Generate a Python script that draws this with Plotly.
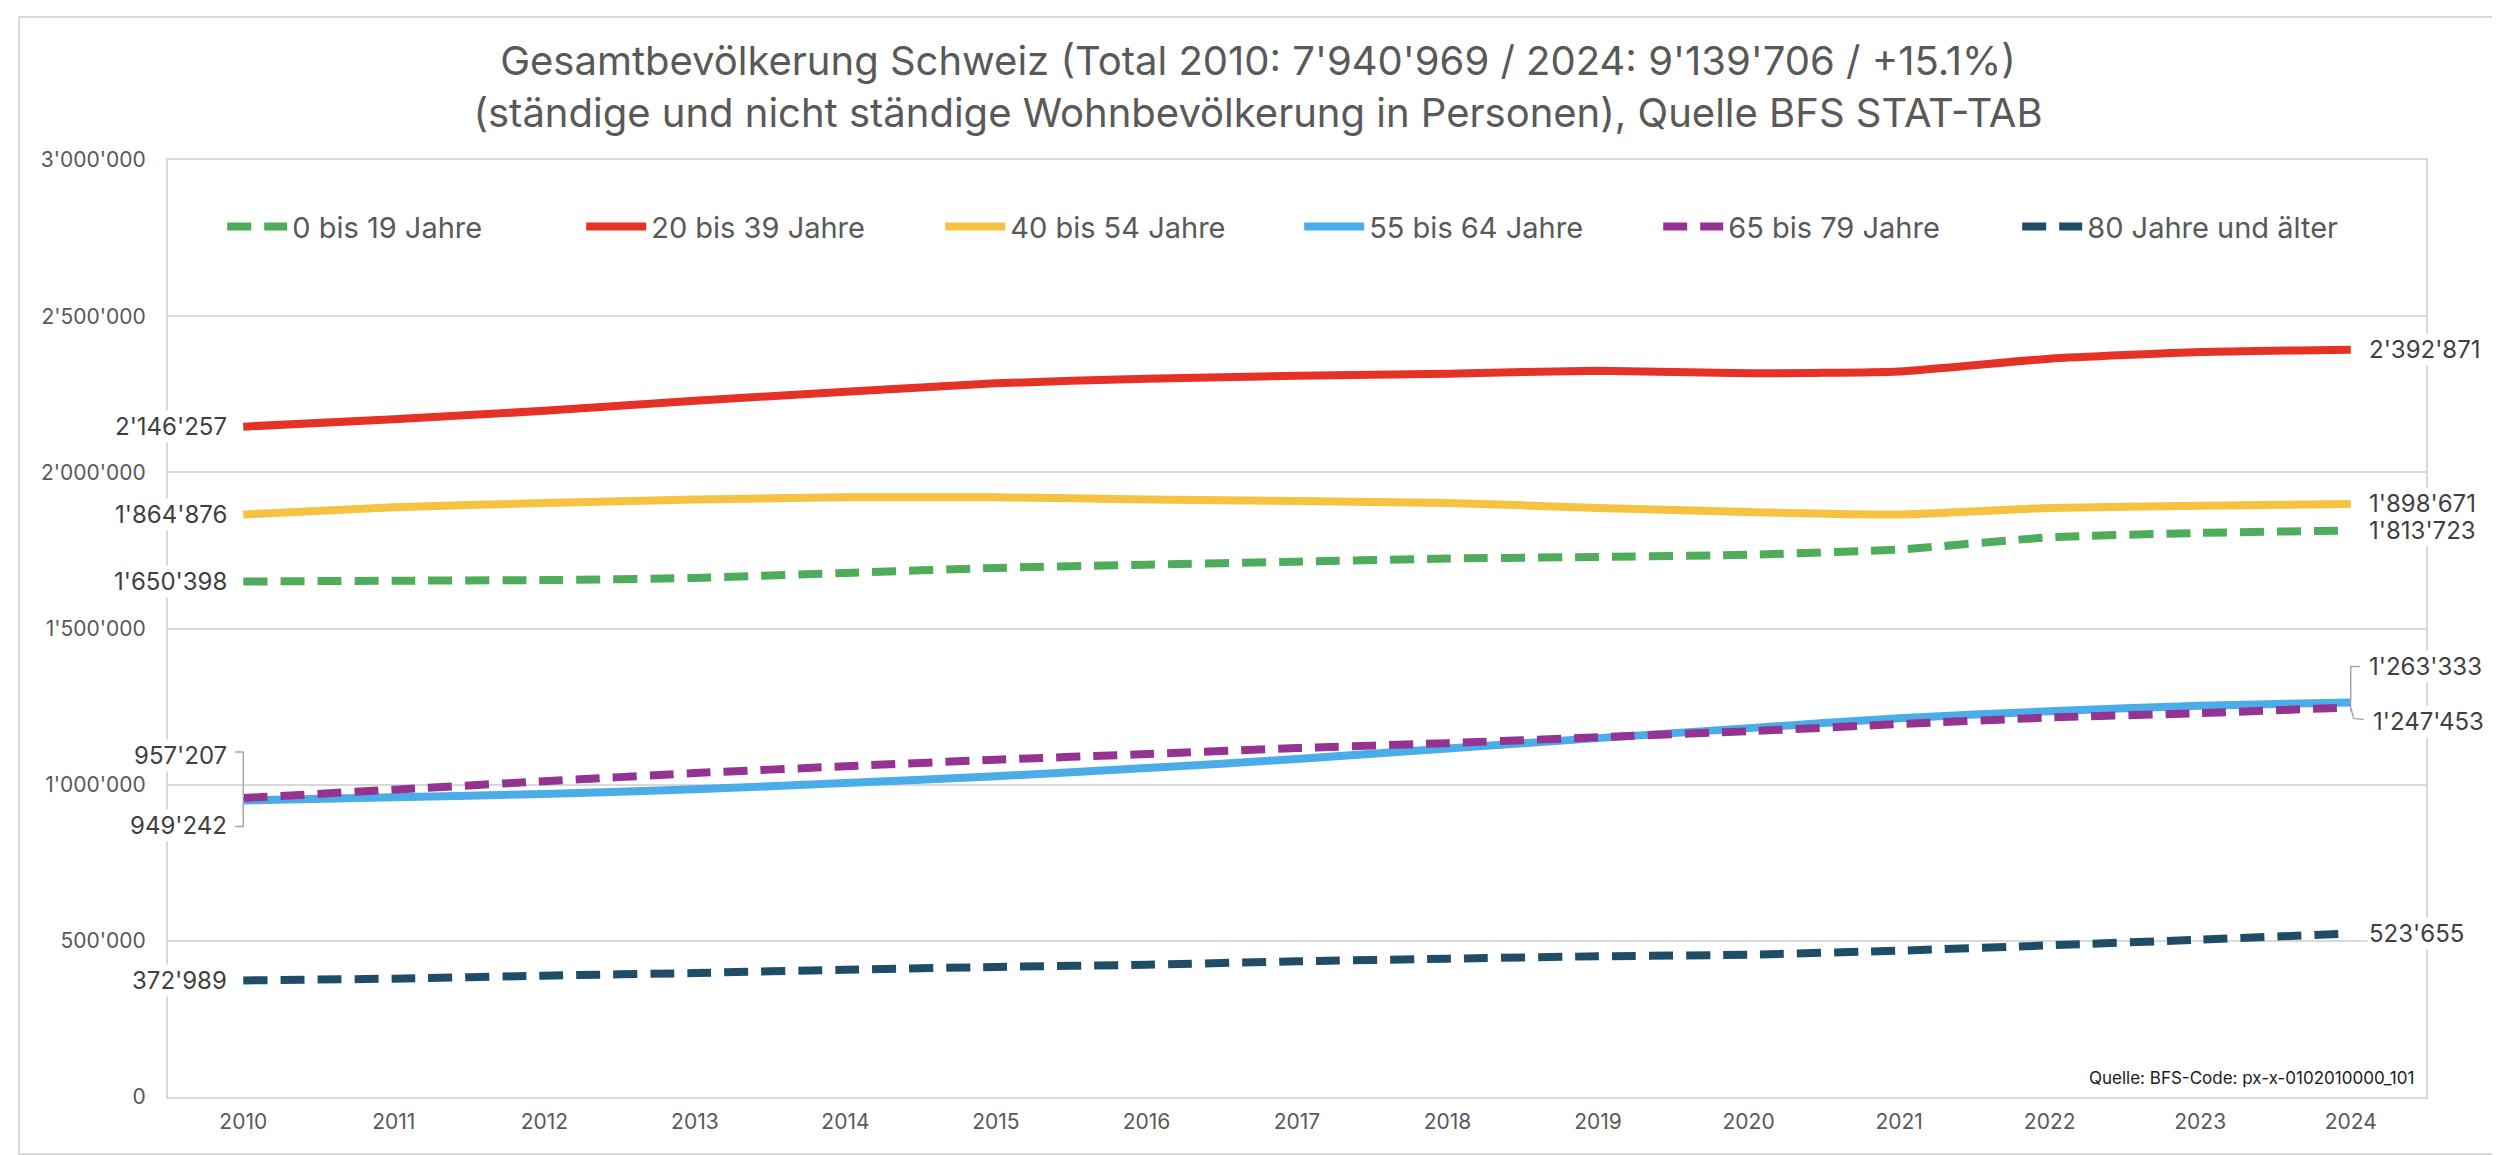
import plotly.graph_objects as go

years = list(range(2010, 2025))

series_names = ["0 bis 19 Jahre", "20 bis 39 Jahre", "40 bis 54 Jahre",
                "55 bis 64 Jahre", "65 bis 79 Jahre", "80 Jahre und älter"]

age_0_19 = [1650398, 1653000, 1655000, 1662000, 1678000, 1694000, 1704000, 1714000,
            1724000, 1729000, 1736000, 1753000, 1792000, 1806000, 1813723]
age_20_39 = [2146257, 2170000, 2197000, 2229000, 2258000, 2285000, 2300000, 2309000,
             2316000, 2325000, 2317000, 2323000, 2364000, 2385000, 2392871]
age_40_54 = [1864876, 1888000, 1902000, 1913000, 1920000, 1920000, 1913000, 1908000,
             1902000, 1886000, 1873000, 1865000, 1886000, 1893000, 1898671]
age_55_64 = [949242, 959600, 970000, 985000, 1005000, 1027000, 1053000, 1082000,
             1116000, 1149000, 1181000, 1213000, 1235000, 1253000, 1263333]
age_65_79 = [957207, 984000, 1011000, 1037000, 1059000, 1080000, 1098000, 1117000,
             1133000, 1152000, 1171000, 1194000, 1215000, 1229000, 1247453]
age_80_plus = [372989, 379000, 388500, 397000, 407600, 416300, 423700, 434400,
               442900, 450500, 455700, 468500, 485600, 503600, 523655]

y_tickvals = [0, 500000, 1000000, 1500000, 2000000, 2500000, 3000000]
y_ticktext = ["0", "500'000", "1'000'000", "1'500'000", "2'000'000", "2'500'000", "3'000'000"]

title_text = ("Gesamtbevölkerung Schweiz (Total 2010: 7'940'969 / 2024: 9'139'706 / +15.1%)<br>"
              "(ständige und nicht ständige Wohnbevölkerung in Personen), Quelle BFS STAT-TAB")
source_text = "Quelle: BFS-Code: px-x-0102010000_101"

all_series = [age_0_19, age_20_39, age_40_54, age_55_64, age_65_79, age_80_plus]
colors = ["#4EAC5B", "#E63127", "#F5C242", "#4AADE8", "#953393", "#1F4D68"]
dashes = ["24px,13px", "solid", "solid", "solid", "24px,13px", "24px,13px"]

FONT = "Inter, Liberation Sans, Arial, sans-serif"


def fmt(v):
    return f"{v:,}".replace(",", "'")


fig = go.Figure()
for name, vals, col, dsh in zip(series_names, all_series, colors, dashes):
    fig.add_trace(go.Scatter(
        x=years, y=vals, name=name, mode="lines",
        line=dict(color=col, width=8, dash=dsh, shape="spline", smoothing=0.5),
    ))

ann = []
lab_font = dict(family=FONT, size=24, color="#404040")
for vals in [age_0_19, age_20_39, age_40_54, age_80_plus]:
    ann.append(dict(x=years[0], y=vals[0], xref="x", yref="y", text=fmt(vals[0]),
                    showarrow=False, xanchor="right", yanchor="middle", xshift=-14,
                    font=lab_font, bgcolor="white"))
for vals in [age_0_19, age_20_39, age_40_54, age_80_plus]:
    ann.append(dict(x=years[-1], y=vals[-1], xref="x", yref="y", text=fmt(vals[-1]),
                    showarrow=False, xanchor="left", yanchor="middle", xshift=16,
                    font=lab_font, bgcolor="white"))
ann.append(dict(x=years[0], y=age_65_79[0], xref="x", yref="y", text=fmt(age_65_79[0]),
                showarrow=False, xanchor="right", yanchor="middle", xshift=-14, yshift=43,
                font=lab_font, bgcolor="white"))
ann.append(dict(x=years[0], y=age_55_64[0], xref="x", yref="y", text=fmt(age_55_64[0]),
                showarrow=False, xanchor="right", yanchor="middle", xshift=-14, yshift=-25,
                font=lab_font, bgcolor="white"))
ann.append(dict(x=years[-1], y=age_55_64[-1], xref="x", yref="y", text=fmt(age_55_64[-1]),
                showarrow=False, xanchor="left", yanchor="middle", xshift=16, yshift=36,
                font=lab_font, bgcolor="white"))
ann.append(dict(x=years[-1], y=age_65_79[-1], xref="x", yref="y", text=fmt(age_65_79[-1]),
                showarrow=False, xanchor="left", yanchor="middle", xshift=20, yshift=-14,
                font=lab_font, bgcolor="white"))
ann.append(dict(x=1, y=0, xref="paper", yref="paper", text=source_text, showarrow=False,
                xanchor="right", yanchor="middle", xshift=-10, yshift=19,
                font=dict(family=FONT, size=17, color="#1a1a1a")))

leader = dict(color="#A6A6A6", width=1.5)
shapes = [
    dict(type="path", xref="x", yref="y", xsizemode="pixel", ysizemode="pixel",
         xanchor=years[0], yanchor=age_65_79[0], path="M -8,46 H 0 V 0", line=leader),
    dict(type="path", xref="x", yref="y", xsizemode="pixel", ysizemode="pixel",
         xanchor=years[0], yanchor=age_55_64[0], path="M -8,-26 H 0 V 0", line=leader),
    dict(type="path", xref="x", yref="y", xsizemode="pixel", ysizemode="pixel",
         xanchor=years[-1], yanchor=age_55_64[-1], path="M 0,0 V 36 H 9", line=leader),
    dict(type="path", xref="x", yref="y", xsizemode="pixel", ysizemode="pixel",
         xanchor=years[-1], yanchor=age_65_79[-1], path="M 0,0 L 3,-11 L 13,-12", line=leader),
    dict(type="rect", xref="paper", yref="paper", x0=-0.066, x1=1.0332, y0=-0.0608, y1=1.1526,
         line=dict(color="#D9D9D9", width=2), fillcolor="rgba(0,0,0,0)", layer="below"),
]

fig.update_layout(
    width=2500, height=1155, autosize=False,
    margin=dict(l=160, r=82, t=152, b=66),
    paper_bgcolor="white", plot_bgcolor="white",
    font=dict(family=FONT, color="#595959"),
    title=dict(text=title_text, x=0.5, xref="container", xanchor="center",
               y=1 - 67 / 1155, yref="container", yanchor="middle",
               font=dict(family=FONT, size=40, color="#595959")),
    legend=dict(orientation="h", x=0.024, xanchor="left", y=0.929, yanchor="middle",
                entrywidth=284, entrywidthmode="pixels",
                font=dict(family=FONT, size=29, color="#595959"),
                bgcolor="rgba(0,0,0,0)", itemwidth=60, traceorder="normal"),
    xaxis=dict(range=[2009.5, 2024.5], tickmode="array", tickvals=years,
               ticktext=[str(y) for y in years], showgrid=False, zeroline=False,
               showline=True, linecolor="#D9D9D9", linewidth=2, mirror=True,
               ticks="", tickfont=dict(family=FONT, size=21, color="#595959"),
               ticklabelstandoff=5),
    yaxis=dict(range=[0, 3000000], tickmode="array", tickvals=y_tickvals, ticktext=y_ticktext,
               showgrid=True, gridcolor="#D9D9D9", gridwidth=2, zeroline=False,
               showline=True, linecolor="#D9D9D9", linewidth=2, mirror=True,
               ticks="", tickfont=dict(family=FONT, size=21, color="#595959"),
               ticklabelstandoff=16),
    annotations=ann, shapes=shapes, showlegend=True,
)

fig.write_html("out.html")
